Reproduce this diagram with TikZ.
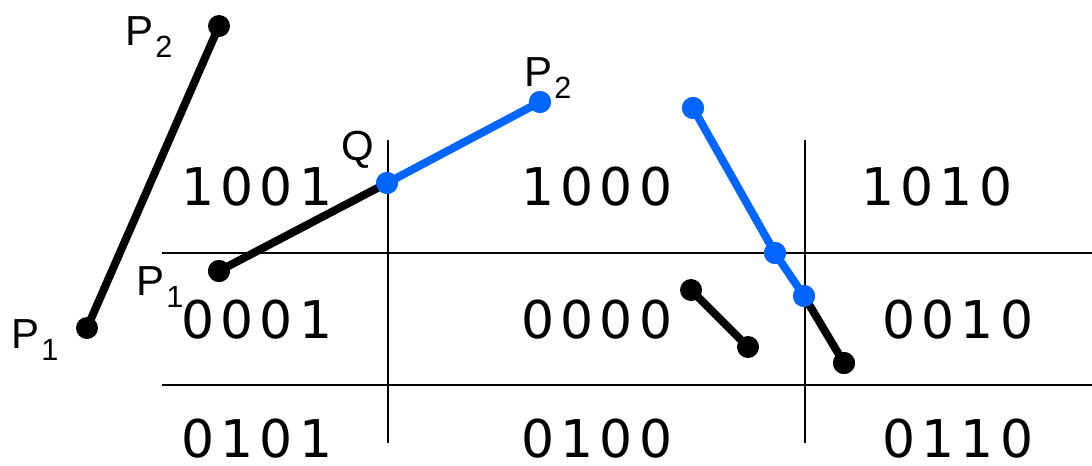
\documentclass[tikz,border=0pt]{standalone}
\usepackage{fontspec}
\setmainfont{Liberation Sans}
\newfontfamily\digitfont{DejaVu Sans}
\definecolor{cblue}{HTML}{0066FF}
\newcommand\Psub[2]{#1\kern1.5pt\raisebox{-9pt}{\fontsize{23}{23}\selectfont #2}}
\newlength\digsp
\setlength\digsp{4.5pt}
\newcommand\codetxt[4]{#1\kern\digsp #2\kern\digsp #3\kern\digsp #4}
\begin{document}
\begin{tikzpicture}[x=0.75pt,y=-0.75pt,
  grid/.style={line width=1.5pt},
  kseg/.style={line width=6pt,draw=black},
  bseg/.style={line width=6pt,draw=cblue},
  kdot/.style={circle,inner sep=0pt,minimum size=16.5pt,fill=black},
  bdot/.style={circle,inner sep=0pt,minimum size=16.5pt,fill=cblue},
  code/.style={anchor=base,inner sep=0pt,font=\digitfont\fontsize{39}{39}\selectfont},
  plabel/.style={anchor=base west,inner sep=0pt,font=\fontsize{31.5}{31.5}\selectfont}]
\useasboundingbox (0,0) rectangle (1092,465);
% grid
\coordinate (h1w) at (162,253); \coordinate (h1e) at (1092,253);
\coordinate (h2w) at (162,385); \coordinate (h2e) at (1092,385);
\coordinate (v1n) at (388,140); \coordinate (v1s) at (388,443);
\coordinate (v2n) at (805,140); \coordinate (v2s) at (805,443);
\draw[grid] (h1w) -- (h1e);
\draw[grid] (h2w) -- (h2e);
\draw[grid] (v1n) -- (v1s);
\draw[grid] (v2n) -- (v2s);
% region codes
\node[code] (c1001) at (257,205) {\codetxt1001};
\node[code] (c1000) at (597,205) {\codetxt1000};
\node[code] (c1010) at (937,205) {\codetxt1010};
\node[code] (c0001) at (257,338) {\codetxt0001};
\node[code] (c0000) at (597,338) {\codetxt0000};
\node[code] (c0010) at (958,338) {\codetxt0010};
\node[code] (c0101) at (257,457) {\codetxt0101};
\node[code] (c0100) at (597,457) {\codetxt0100};
\node[code] (c0110) at (958,457) {\codetxt0110};
% segment A
\node[kdot] (a1) at (87,328) {};
\node[kdot] (a2) at (219,26) {};
\draw[kseg] (a1.center) -- (a2.center);
\node[plabel] (la1) at (11,348) {\Psub{P}{1}};
\node[plabel] (la2) at (125,45) {\Psub{P}{2}};
% segment B
\node[kdot] (b1) at (219,271) {};
\node[bdot] (bq) at (387,183) {};
\node[bdot] (b2) at (540,102) {};
\draw[kseg] (b1.center) -- (bq.center);
\draw[bseg] (bq.center) -- (b2.center);
\node[kdot] at (b1) {};
\node[bdot] at (bq) {};
\node[bdot] at (b2) {};
\node[plabel] (lb1) at (136,295) {\Psub{P}{1}};
\node[plabel] (lbq) at (341,160) {Q};
\node[plabel] (lb2) at (524,86) {\Psub{P}{2}};
% segment C
\node[bdot] (c1) at (693,108) {};
\node[bdot] (c2) at (775,253) {};
\node[bdot] (c3) at (804,296) {};
\node[kdot] (c4) at (844,363) {};
\draw[kseg] (c3.center) -- (c4.center);
\draw[bseg] (c1.center) -- (c2.center) -- (c3.center);
\node[bdot] at (c1) {};
\node[bdot] at (c2) {};
\node[bdot] at (c3) {};
\node[kdot] at (c4) {};
% segment D
\node[kdot] (d1) at (691,290) {};
\node[kdot] (d2) at (748,347) {};
\draw[kseg] (d1.center) -- (d2.center);
\end{tikzpicture}
\end{document}
